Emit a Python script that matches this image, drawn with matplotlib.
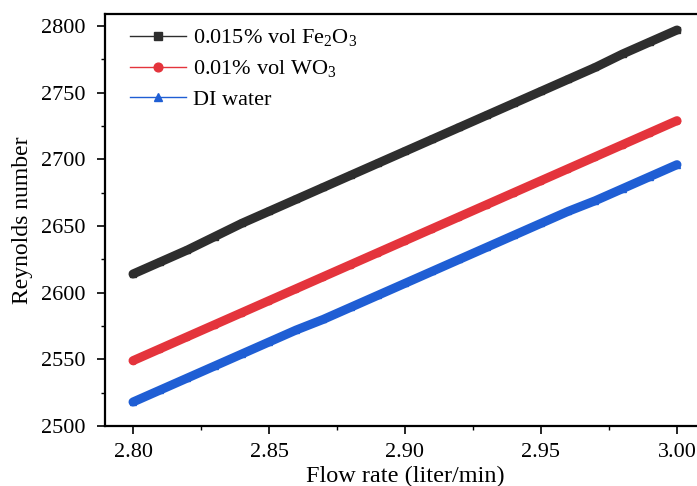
import matplotlib.pyplot as plt

plt.rcParams['font.family'] = ['Liberation Serif', 'DejaVu Serif']
plt.rcParams['mathtext.fontset'] = 'custom'
plt.rcParams['mathtext.rm'] = 'Liberation Serif'
plt.rcParams['mathtext.it'] = 'Liberation Serif:italic'

flow = [2.80, 2.81, 2.82, 2.83, 2.84, 2.85, 2.86, 2.87, 2.88, 2.89, 2.90,
        2.91, 2.92, 2.93, 2.94, 2.95, 2.96, 2.97, 2.98, 2.99, 3.00]
fe2o3 = [2614, 2623, 2632, 2642, 2652, 2661, 2670, 2679, 2688, 2697, 2706,
         2715, 2724, 2733, 2742, 2751, 2760, 2769, 2779, 2788, 2797]
wo3 = [2549, 2558, 2567, 2576, 2585, 2594, 2603, 2612, 2621, 2630, 2639,
       2648, 2657, 2666, 2675, 2684, 2693, 2702, 2711, 2720, 2729]
water = [2518, 2527, 2536, 2545, 2554, 2563, 2572, 2580, 2589, 2598, 2607,
         2616, 2625, 2634, 2643, 2652, 2661, 2669, 2678, 2687, 2696]

series = [
    (fe2o3, '#2e2e2e', 's', '0.015% vol Fe$_2$O$_3$'),
    (wo3, '#e4343c', 'o', '0.01% vol WO$_3$'),
    (water, '#1f5ed4', '^', 'DI water'),
]

fig = plt.figure(figsize=(6.97, 4.86), dpi=100)
ax = fig.add_axes([105 / 697, 60 / 486, 600 / 697, 412 / 486])

for y, c, m, lab in series:
    ax.plot(flow, y, color=c, lw=6.5, solid_capstyle='round', zorder=2)
    ax.plot(flow, y, color=c, lw=1, marker=m, ms=4.5, label=lab, zorder=3)

ax.set_xlim(2.7897, 3.0103)
ax.set_ylim(2500, 2809)
ax.set_xticks([2.80, 2.85, 2.90, 2.95, 3.00])
ax.set_xticks([2.825, 2.875, 2.925, 2.975], minor=True)
ax.set_yticks([2500, 2550, 2600, 2650, 2700, 2750, 2800])
ax.set_yticks([2525, 2575, 2625, 2675, 2725, 2775], minor=True)
ax.set_xticklabels(['2.80', '2.85', '2.90', '2.95', '3.00'])

ax.tick_params(which='major', direction='out', length=6, width=1.2, labelsize=16)
ax.tick_params(axis='x', which='major', pad=6)
ax.tick_params(axis='y', which='major', pad=8)
ax.tick_params(which='minor', direction='out', length=3, width=1.0)
for s in ax.spines.values():
    s.set_linewidth(1.6)

ax.set_xlabel('Flow rate (liter/min)', fontsize=17.5, labelpad=3)
ax.set_ylabel('Reynolds number', fontsize=17, labelpad=6)

ax.legend(loc='upper left', frameon=False, fontsize=16, markerscale=1.4,
          handlelength=2.5, handletextpad=0.3, borderaxespad=0.2,
          labelspacing=0.45, bbox_to_anchor=(0.02, 1.0))

fig.savefig('out.png', dpi=100)
